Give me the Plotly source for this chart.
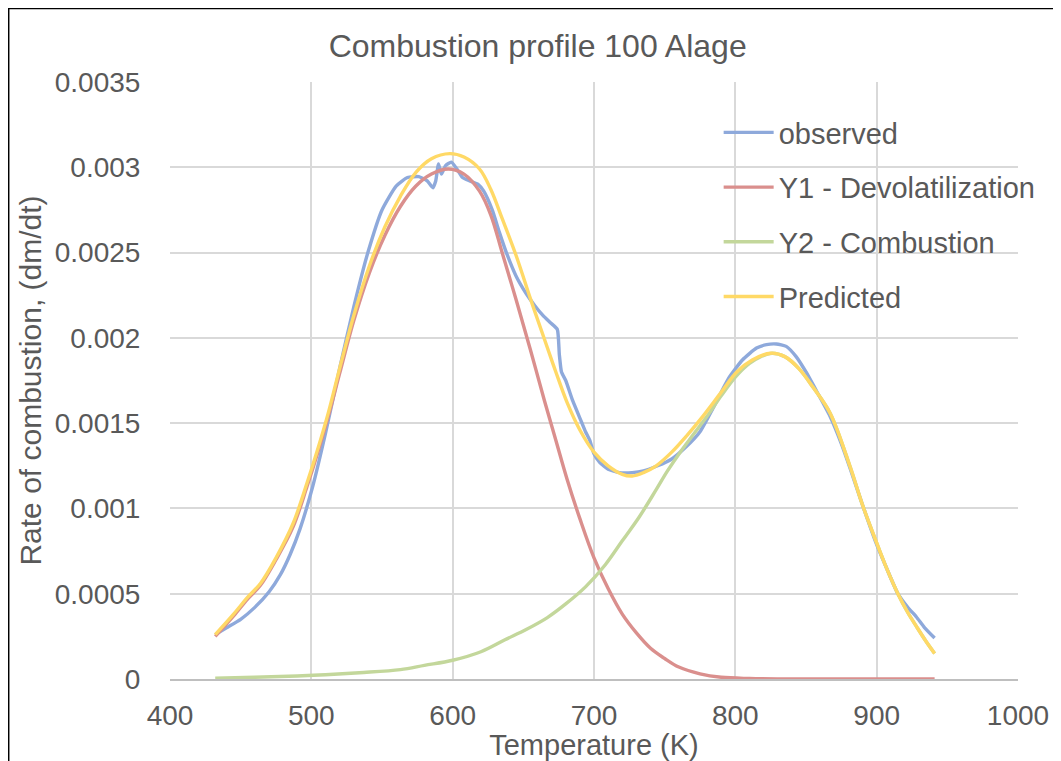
import plotly.graph_objects as go

# ---------------- data ----------------
obs_T = [432, 440, 450, 460, 470, 478, 485, 492, 501, 510, 520, 530, 540, 550, 560, 568, 576,
         582, 586, 588, 590, 592, 595, 599, 603, 607, 612, 618, 622, 628, 633, 638, 645,
         652, 658, 664, 669, 674, 675.5, 677, 680, 685, 691, 694, 697, 700, 704, 710, 718,
         727, 735, 745, 755, 765, 775, 785, 795, 805, 815, 822, 829, 836, 843, 850, 858,
         867, 875, 881, 890, 899, 907, 915, 922, 928, 934, 941]
obs_v = [0.00026, 0.00030, 0.00035, 0.00042, 0.00051, 0.00061, 0.00073, 0.00088, 0.00113,
         0.00144, 0.00182, 0.00218, 0.00250, 0.00275, 0.00289, 0.00294, 0.002945, 0.00292,
         0.00288, 0.00292, 0.00302, 0.00296, 0.00301, 0.00303, 0.00299, 0.00294, 0.00292,
         0.00290, 0.00286, 0.00275, 0.00262, 0.00250, 0.00236, 0.00226, 0.00219, 0.00213,
         0.00209, 0.00205, 0.00190, 0.00180, 0.00175, 0.00163, 0.00151, 0.00145, 0.00140,
         0.00132, 0.00127, 0.00123, 0.00121, 0.00121, 0.00122, 0.00125, 0.00129, 0.00136,
         0.00145, 0.00160, 0.00176, 0.00187, 0.00194, 0.00196, 0.001964, 0.00195, 0.00189,
         0.00180, 0.00168, 0.00154, 0.00138, 0.00124, 0.00102, 0.00081, 0.00065, 0.00050,
         0.00042, 0.000365, 0.00030, 0.00024]

y1_T = [432, 445, 455, 464, 475, 487, 497, 505, 512, 520, 530, 541, 552, 563, 574, 585,
        597, 608, 619, 627, 635, 645, 655, 665, 673, 681, 690, 700, 710, 720, 730, 740,
        750, 760, 775, 790, 810, 850, 900, 941]
y1_v = [0.00025, 0.00037, 0.00047, 0.00055, 0.00070, 0.00089, 0.00113, 0.00134, 0.00154,
        0.00179, 0.00210, 0.00238, 0.00260, 0.00277, 0.00289, 0.00296, 0.00299, 0.00296,
        0.00286, 0.00272, 0.00250, 0.00222, 0.00193, 0.00163, 0.00140, 0.00117, 0.00094,
        0.00071, 0.00053, 0.00038, 0.00027, 0.00018, 0.00012, 0.00007, 0.00003, 0.00001,
        0.000003, 0.0, 0.0, 0.0]

y2_T = [432, 460, 490, 510, 534, 563, 580, 600, 620, 637, 652, 667, 680, 694, 708, 720,
        732, 744, 752, 761, 770, 780, 790, 800, 810, 818, 826, 835, 845, 855, 867, 881,
        890, 899, 907, 915, 922, 928, 935, 941]
y2_v = [0.000005, 0.00001, 0.000018, 0.000025, 0.000037, 0.000055, 0.00008, 0.00011,
        0.00016, 0.00023, 0.00029, 0.00036, 0.00044, 0.00054, 0.00067, 0.00081, 0.00095,
        0.00111, 0.00122, 0.00133, 0.00143, 0.00154, 0.00166, 0.00177, 0.00185, 0.00189,
        0.00191, 0.00189, 0.00182, 0.00171, 0.00156, 0.00125, 0.00102, 0.00082, 0.00065,
        0.00050, 0.00039, 0.00031, 0.00022, 0.00015]

pred_T = [432, 445, 455, 464, 475, 487, 497, 505, 512, 520, 530, 541, 552, 563, 574, 585,
          598, 608, 619, 627, 635, 645, 655, 665, 673, 681, 690, 700, 710, 720, 727, 735,
          744, 755, 766, 777, 789, 801, 812, 825, 835, 845, 855, 867, 881, 890, 899, 907,
          915, 922, 928, 935, 941]
pred_v = [0.00026, 0.00038, 0.00048, 0.00056, 0.00071, 0.00091, 0.00115, 0.00136, 0.00156,
          0.00182, 0.00213, 0.00242, 0.00265, 0.00283, 0.00297, 0.00305, 0.00308, 0.00306,
          0.00299, 0.00287, 0.00270, 0.00248, 0.00223, 0.00199, 0.00180, 0.00162, 0.00146,
          0.00133, 0.00125, 0.00120, 0.00119, 0.00121, 0.00125, 0.00133, 0.00143, 0.00154,
          0.00167, 0.00180, 0.00187, 0.00191, 0.00189, 0.00182, 0.00171, 0.00156, 0.00125,
          0.00102, 0.00082, 0.00065, 0.00050, 0.00039, 0.00031, 0.00022, 0.00015]

x_ticks = [400, 500, 600, 700, 800, 900, 1000]
y_ticks = [0, 0.0005, 0.001, 0.0015, 0.002, 0.0025, 0.003, 0.0035]
y_tick_text = ["0", "0.0005", "0.001", "0.0015", "0.002", "0.0025", "0.003", "0.0035"]

series_names = ["observed", "Y1 - Devolatilization", "Y2 - Combustion", "Predicted"]
series_colors = ["#8EA9DB", "#DA8F8D", "#C3D79B", "#FFD966"]

# ---------------- figure ----------------
FONT = "Liberation Sans, Arial, sans-serif"
TXT = "#595959"

fig = go.Figure()
data = [(obs_T, obs_v, 0.5), (y1_T, y1_v, 1.0), (y2_T, y2_v, 1.0), (pred_T, pred_v, 1.0)]
for i, ((tx, vy, sm), name, col) in enumerate(zip(data, series_names, series_colors)):
    fig.add_trace(go.Scatter(
        x=tx, y=vy, mode="lines", name=name, legendgroup=f"g{i}",
        line=dict(color=col, width=3.4, shape="spline", smoothing=sm),
    ))

fig.update_layout(
    width=1053, height=753,
    paper_bgcolor="white", plot_bgcolor="white",
    margin=dict(l=162, r=43, t=74, b=82, autoexpand=False),
    font=dict(family=FONT, color=TXT, size=29),
    title=dict(text="Combustion profile 100 Alage", x=0.503, xanchor="center",
               y=0.95, yanchor="middle", font=dict(size=32, color=TXT, family=FONT)),
    showlegend=True,
    legend=dict(x=0.647, y=0.958, xanchor="left", yanchor="top",
                bgcolor="rgba(0,0,0,0)", font=dict(size=29, color=TXT, family=FONT),
                tracegroupgap=14, itemwidth=50),
    xaxis=dict(range=[400, 1000], tickvals=x_ticks, showgrid=True, gridcolor="#D9D9D9",
               gridwidth=1.5, zeroline=False, showline=True, linecolor="#BFBFBF", linewidth=1.5,
               ticks="outside", ticklen=11, tickcolor="rgba(0,0,0,0)", automargin=False,
               tickfont=dict(size=28, color=TXT),
               title=dict(text="Temperature (K)", font=dict(size=29, color=TXT), standoff=4)),
    yaxis=dict(range=[0, 0.0035], tickvals=y_ticks, ticktext=y_tick_text, showgrid=True,
               gridcolor="#D9D9D9", gridwidth=1.5, zeroline=False, showline=False,
               ticks="outside", ticklen=23, tickcolor="rgba(0,0,0,0)", automargin=False,
               tickfont=dict(size=28, color=TXT),
               title=dict(text="Rate of combustion, (dm/dt)", font=dict(size=30, color=TXT),
                          standoff=4)),
    shapes=[dict(type="rect", xref="paper", yref="paper", x0=-0.1905, x1=1.1, y0=-0.2, y1=1.1235,
                 line=dict(color="black", width=2), fillcolor="rgba(0,0,0,0)", layer="above")],
)

fig.write_html("out.html")
